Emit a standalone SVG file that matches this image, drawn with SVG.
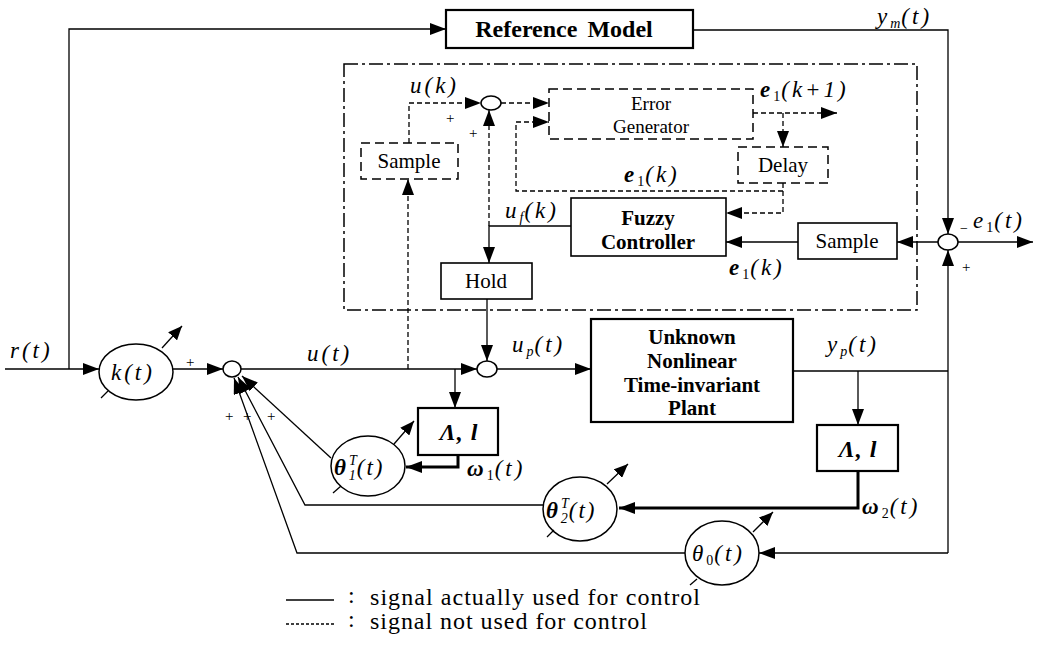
<svg xmlns="http://www.w3.org/2000/svg" width="1037" height="660" viewBox="0 0 1037 660" font-family="'Liberation Serif', 'DejaVu Serif', serif">
<defs>
<style>
.ln{fill:none;stroke:#000;stroke-width:1.3}
.th{fill:none;stroke:#000;stroke-width:3}
.bx{fill:#fff;stroke:#000;stroke-width:1.6}
.bx2{fill:#fff;stroke:#000;stroke-width:2.2}
.db{fill:none;stroke:#000;stroke-width:1.5;stroke-dasharray:9 5}
.dl{fill:none;stroke:#000;stroke-width:1.3;stroke-dasharray:5 3}
.dd{fill:none;stroke:#000;stroke-width:1.5;stroke-dasharray:14 4 3 4}
.ci{fill:#fff;stroke:#000;stroke-width:1.5}
text{font-family:'Liberation Serif','DejaVu Serif',serif;fill:#000}
.t{font-size:21px;text-anchor:middle}
.tg{font-size:19px;text-anchor:middle}
.tb{font-size:21px;font-weight:bold;text-anchor:middle}
.m{font-size:23px;font-style:italic;letter-spacing:3px}
.bi{font-weight:bold;font-style:italic}
.s{font-size:14px;letter-spacing:1px}
.p{font-size:15px}
.lg{font-size:24px}
.lam{font-size:24px;font-weight:bold;font-style:italic;text-anchor:middle;letter-spacing:1px}
</style>
<marker id="ah" markerUnits="userSpaceOnUse" markerWidth="17" markerHeight="12" refX="16" refY="6" orient="auto" viewBox="0 0 17 12"><path d="M0,0 L16,6 L0,12 z" fill="#000"/></marker>
<marker id="as" markerUnits="userSpaceOnUse" markerWidth="15" markerHeight="12" refX="14" refY="6" orient="auto" viewBox="0 0 15 12"><path d="M0,0 L14,6 L0,12 z" fill="#000"/></marker>
</defs>

<g id="fuzzy-loop-frame"><rect class="dd" x="344" y="64" width="573" height="246"/></g>

<g id="connectors">
<path class="ln" d="M5,369 H99" marker-end="url(#ah)"/>
<path class="ln" d="M69,369 V29 H446" marker-end="url(#ah)"/>
<path class="ln" d="M173,369 H223" marker-end="url(#ah)"/>
<path class="ln" d="M241,369 H477" marker-end="url(#ah)"/>
<path class="ln" d="M455,369 V408" marker-end="url(#ah)"/>
<path class="ln" d="M497,369 H591" marker-end="url(#ah)"/>
<path class="ln" d="M487,299 V361" marker-end="url(#ah)"/>
<path class="ln" d="M571,226 H489 V263" marker-end="url(#ah)"/>
<path class="dl" d="M489,226 V110" marker-end="url(#ah)"/>
<path class="dl" d="M408,369 V179" marker-end="url(#ah)"/>
<path class="dl" d="M409,143 V103 H481" marker-end="url(#ah)"/>
<path class="dl" d="M501,103 H549" marker-end="url(#ah)"/>
<path class="dl" d="M753,113 H837" marker-end="url(#ah)"/>
<path class="dl" d="M783,113 V147" marker-end="url(#ah)"/>
<path class="dl" d="M783,183 V213 H726" marker-end="url(#ah)"/>
<path class="dl" d="M783,191 H516 V122 H549" marker-end="url(#ah)"/>
<path class="ln" d="M693,30 H948 V234" marker-end="url(#ah)"/>
<path class="ln" d="M938,242 H897" marker-end="url(#ah)"/>
<path class="ln" d="M798,242 H726" marker-end="url(#ah)"/>
<path class="ln" d="M958,242 H1033" marker-end="url(#ah)"/>
<path class="ln" d="M793,371 H948"/>
<path class="ln" d="M858,371 V425" marker-end="url(#ah)"/>
<path class="ln" d="M948,553 V250" marker-end="url(#ah)"/>
<path class="ln" d="M948,553 H759" marker-end="url(#ah)"/>
<path class="th" d="M858,471 V508 H619" marker-end="url(#ah)"/>
<path class="th" d="M458,455 V467 H406" marker-end="url(#ah)"/>
<path class="ln" d="M331,458 L242,376" marker-end="url(#ah)"/>
<path class="ln" d="M543,505 H305 L238,377" marker-end="url(#ah)"/>
<path class="ln" d="M685,553 H297 L234,378" marker-end="url(#ah)"/>
</g>

<g id="reference-model"><rect class="bx2" x="446" y="10" width="247" height="38"/><text x="564" y="37" font-size="24" font-weight="bold" text-anchor="middle" word-spacing="4">Reference Model</text></g>

<g id="gain-k"><ellipse class="ci" cx="136" cy="372" rx="37" ry="28"/><text class="m" x="111" y="380">k(t)</text><path class="ln" d="M101,398 L108,391"/><path class="ln" d="M162,348 L182,326" marker-end="url(#as)"/></g>

<g id="sum-u"><ellipse class="ci" cx="232" cy="369" rx="9" ry="8"/></g>
<g id="sum-up"><ellipse class="ci" cx="487" cy="369" rx="10" ry="8"/></g>

<g id="plant"><rect class="bx2" x="591" y="319" width="202" height="103"/>
<text class="tb" x="692" y="344">Unknown</text><text class="tb" x="692" y="368">Nonlinear</text><text class="tb" x="692" y="392">Time-invariant</text><text class="tb" x="692" y="415">Plant</text></g>

<g id="filter-1"><rect class="bx2" x="418" y="408" width="80" height="47"/><text x="459" y="440" class="lam">Λ, l</text></g>

<g id="theta-1"><ellipse class="ci" cx="368" cy="466" rx="37" ry="30"/><text class="m" x="334" y="475" letter-spacing="1"><tspan class="bi">θ</tspan><tspan class="s" dy="-10">T</tspan><tspan class="s" dx="-9" dy="15">1</tspan><tspan dy="-5" letter-spacing="2">(t)</tspan></text><path class="ln" d="M333,493 L341,486"/><path class="ln" d="M394,444 L414,421" marker-end="url(#as)"/></g>

<g id="filter-2"><rect class="bx2" x="817" y="425" width="81" height="46"/><text x="858" y="457" class="lam">Λ, l</text></g>

<g id="theta-2"><ellipse class="ci" cx="580" cy="509" rx="37" ry="32"/><text class="m" x="546" y="518" letter-spacing="1"><tspan class="bi">θ</tspan><tspan class="s" dy="-10">T</tspan><tspan class="s" dx="-9" dy="15">2</tspan><tspan dy="-5" letter-spacing="2">(t)</tspan></text><path class="ln" d="M547,537 L554,530"/><path class="ln" d="M607,484 L628,464" marker-end="url(#as)"/></g>

<g id="theta-0"><ellipse class="ci" cx="722" cy="553" rx="37" ry="32"/><text class="m" x="692" y="561" letter-spacing="2">θ<tspan class="s" dy="4" font-style="normal">0</tspan><tspan dy="-4">(t)</tspan></text><path class="ln" d="M690,585 L697,579"/><path class="ln" d="M753,532 L773,512" marker-end="url(#as)"/></g>

<g id="sample-1"><rect class="db" x="361" y="143" width="97" height="36"/><text class="t" x="409" y="168">Sample</text></g>
<g id="sum-k"><ellipse class="ci" cx="491" cy="103" rx="10" ry="7"/></g>
<g id="error-generator"><rect class="db" x="549" y="89" width="204" height="50"/><text class="tg" x="651" y="110">Error</text><text class="tg" x="651" y="133">Generator</text></g>
<g id="delay"><rect class="db" x="738" y="147" width="90" height="36"/><text class="t" x="783" y="172">Delay</text></g>
<g id="fuzzy-controller"><rect class="bx" x="571" y="198" width="155" height="58"/><text class="tb" x="648" y="225">Fuzzy</text><text class="tb" x="648" y="249">Controller</text></g>
<g id="sample-2"><rect class="bx" x="798" y="223" width="99" height="36"/><text class="t" x="847" y="248">Sample</text></g>
<g id="hold"><rect class="bx" x="441" y="263" width="91" height="36"/><text class="t" x="486" y="288">Hold</text></g>
<g id="sum-e"><ellipse class="ci" cx="948" cy="242" rx="10" ry="8"/></g>

<g id="labels">
<text class="m" x="10" y="358">r(t)</text>
<text class="m" x="307" y="361">u(t)</text>
<text class="m" x="512" y="352">u<tspan class="s" dy="4">p</tspan><tspan dy="-4">(t)</tspan></text>
<text class="m" x="827" y="352">y<tspan class="s" dy="4">p</tspan><tspan dy="-4">(t)</tspan></text>
<text class="m" x="877" y="24">y<tspan class="s" dy="4">m</tspan><tspan dy="-4">(t)</tspan></text>
<text class="m" x="410" y="93">u(k)</text>
<text class="m" x="505" y="218">u<tspan class="s" dy="4">f</tspan><tspan dy="-4">(k)</tspan></text>
<text class="m" x="760" y="97" font-size="26" letter-spacing="4"><tspan class="bi">e</tspan><tspan class="s" dy="4" font-style="normal">1</tspan><tspan dy="-4">(k+1)</tspan></text>
<text class="m" x="624" y="182" font-size="24"><tspan class="bi">e</tspan><tspan class="s" dy="4" font-style="normal">1</tspan><tspan dy="-4">(k)</tspan></text>
<text class="m" x="729" y="275" font-size="24"><tspan class="bi">e</tspan><tspan class="s" dy="4" font-style="normal">1</tspan><tspan dy="-4">(k)</tspan></text>
<text x="960" y="233" font-size="14">−</text>
<text class="m" x="973" y="228">e<tspan class="s" dy="4" font-style="normal">1</tspan><tspan dy="-4">(t)</tspan></text>
<text class="m" x="467" y="476"><tspan class="bi">ω</tspan><tspan class="s" dy="4" font-style="normal">1</tspan><tspan dy="-4">(t)</tspan></text>
<text class="m" x="862" y="514"><tspan class="bi">ω</tspan><tspan class="s" dy="4" font-style="normal">2</tspan><tspan dy="-4">(t)</tspan></text>
<text class="p" x="186" y="367">+</text>
<text class="p" x="446" y="123">+</text>
<text class="p" x="469" y="138">+</text>
<text class="p" x="962" y="272">+</text>
<text class="p" x="225" y="421">+</text>
<text class="p" x="243" y="421">+</text>
<text class="p" x="267" y="421">+</text>
</g>

<g id="legend">
<path class="ln" d="M286,600 H334"/>
<path fill="none" stroke="#000" stroke-width="1.3" stroke-dasharray="3 2" d="M286,624 H334"/>
<text class="lg" x="348" y="603">:</text>
<text class="lg" x="348" y="627">:</text>
<text class="lg" x="370" y="605" textLength="330" lengthAdjust="spacing">signal actually used for control</text>
<text class="lg" x="370" y="629" textLength="277" lengthAdjust="spacing">signal not used for control</text>
</g>
</svg>
